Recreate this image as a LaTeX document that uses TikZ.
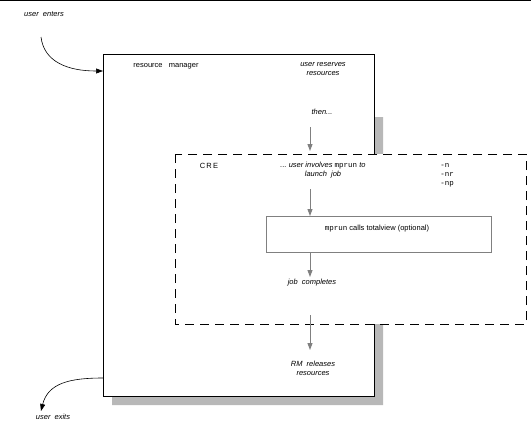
\documentclass[tikz,border=0pt]{standalone}
\usepackage{fontspec}
\setmainfont{Liberation Sans}
\newfontfamily\monof{Liberation Mono}
\usetikzlibrary{arrows.meta}
\definecolor{shadowgray}{RGB}{184,184,184}
\definecolor{flowgray}{RGB}{128,128,128}
\tikzset{
  lbl/.style={font=\fontsize{7.5}{9}\selectfont\itshape, inner sep=0pt, align=center},
  lblup/.style={font=\fontsize{7.5}{9}\selectfont, inner sep=0pt, align=center},
  flow/.style={draw=flowgray, line width=0.9pt, -{Triangle[width=5pt,length=7pt]}, flowgray},
  curvearrow/.style={draw=black, line width=0.6pt, -{Triangle[width=5pt,length=7pt]}},
}
\begin{document}
\begin{tikzpicture}[x=1pt,y=-1pt]
\useasboundingbox (0,0) rectangle (531,432);
\draw[line width=1pt] (0,0.5) -- (531,0.5);
% shadow
\fill[shadowgray] (374,117) -- (383,117) -- (383,405) -- (112,405) -- (112,396) -- (374,396) -- cycle;
% main box
\draw[line width=0.8pt, fill=white] (103,54) rectangle (374,396);
% CRE dashed box
\draw[line width=0.8pt, dash pattern=on 9pt off 6pt, fill=white] (175,154) rectangle (526,324);
% inner box
\node[draw=flowgray, line width=0.8pt, minimum width=225pt, minimum height=36pt, inner sep=0pt, anchor=north west] (mp) at (266,216) {};
\node[lblup] (mptext) at (377,229) {{\monof mprun} calls totalview (optional)};

% texts
\node[lbl] (uenter) at (44,14) {user\ \ enters};
\node[lblup] (rm) at (166,66) {resource\ \ \ manager};
\node[lbl] (ures) at (323,69) {user\ reserves\\resources};
\node[lbl] (then) at (322,112) {then...};
\node[lblup] (cre) at (209,166) {C\,R\,E};
\node[lbl] (inv) at (323,170) {...\ user\ involves\ {\upshape\monof mprun} to\\launch\ \ job};
\node[lblup, font=\fontsize{7.5}{9}\selectfont\monof, align=left] (opts) at (447,175) {-n\\-nr\\-np};
\node[lbl] (jc) at (312,283) {job\ \ completes};
\node[lbl] (rel) at (313,368) {RM\ \ releases\\resources};
\node[lbl] (uexit) at (53,417) {user\ \ exits};

% vertical flow arrows
\coordinate (a1s) at (310,127);
\coordinate (a1e) at (310,151);
\coordinate (a2s) at (310,189);
\draw[flow] (a1s) -- (a1e);
\draw[flow] (a2s) -- (mp.north -| a2s);
\coordinate (a3e) at (310,277);
\draw[flow] (mp.south -| a3e) -- (a3e);
\coordinate (a4s) at (310,315);
\coordinate (a4e) at (310,350);
\draw[flow] (a4s) -- (a4e);

% enter / exit curves
\coordinate (cs) at (41,37);
\coordinate (ce) at (103,71);
\draw[curvearrow] (cs) .. controls (44,62) and (68,71) .. (ce);
\coordinate (xs) at (103,378);
\coordinate (xe) at (41,411);
\draw[curvearrow] (xs) .. controls (70,378) and (48,383) .. (xe);
\end{tikzpicture}
\end{document}
